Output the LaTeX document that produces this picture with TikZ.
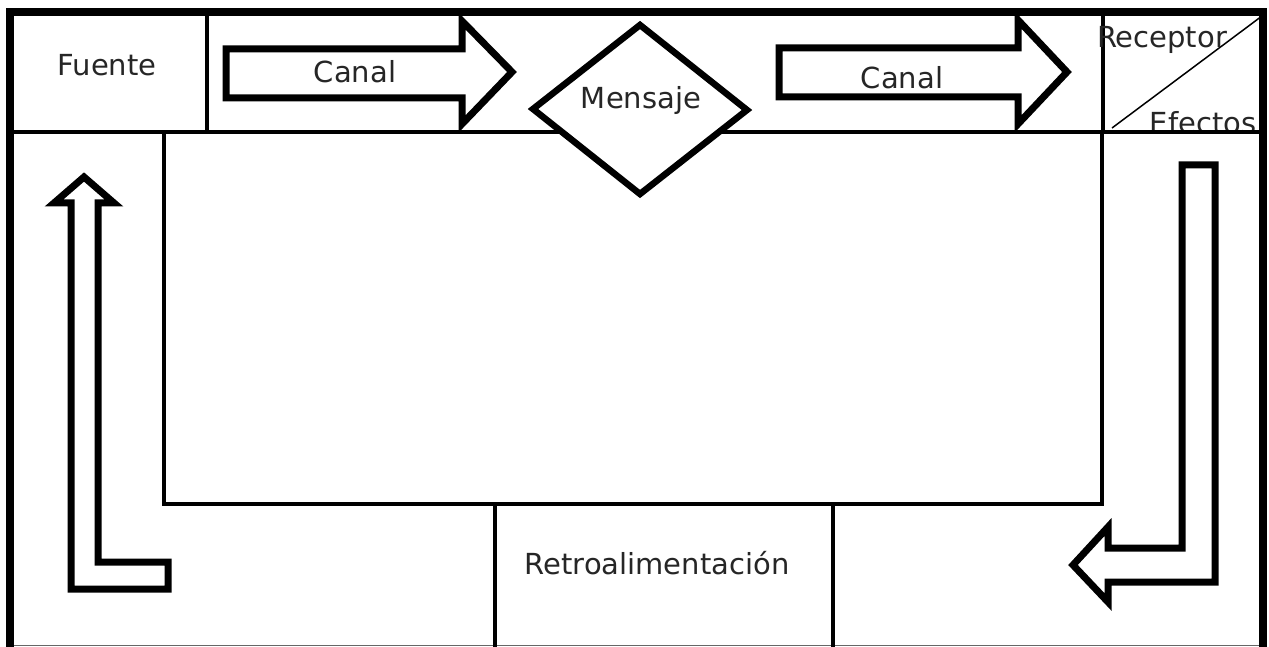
\documentclass[tikz,border=0pt]{standalone}
\usepackage{fontspec}
\setmainfont{DejaVu Sans}
\definecolor{txt}{RGB}{38,38,38}
\begin{document}
\begin{tikzpicture}[x=1pt,y=-1pt,
  lbl/.style={font=\fontsize{29}{33}\selectfont, text=txt, inner sep=0pt, anchor=base},
  outerline/.style={line width=7.5pt, line join=miter},
  divider/.style={line width=4.5pt},
  boxline/.style={line width=3.5pt, line join=miter},
  blockarrow/.style={line width=7pt, line join=miter, miter limit=10, fill=white},
  diamondline/.style={line width=6.5pt, line join=miter, fill=white},
]
\useasboundingbox (0,0) rectangle (1269,647);
\fill[white] (0,0) rectangle (1269,647);

% text partly hidden by lines
\node[lbl] (efectos) at (1203,134) {Efectos};

% frame
\draw[line width=1.5pt, black!60] (10,645.5) -- (1263,645.5);
\draw[outerline] (10,647) -- (10,12) -- (1263,12) -- (1263,647);
\draw[divider] (10,132) -- (1263,132);
\draw[divider] (207,12) -- (207,132);
\draw[divider] (1103,12) -- (1103,132);
\draw[boxline] (164,132) -- (164,504) -- (1102,504) -- (1102,132);
\draw[boxline] (495,504) -- (495,647);
\draw[boxline] (833,504) -- (833,647);
\draw[line width=1.5pt] (1112,128) -- (1262,16);

% top block arrows
\draw[blockarrow] (226,49) -- (462,49) -- (462,21) -- (512,72) -- (462,124) -- (462,98) -- (226,98) -- cycle;
\draw[blockarrow] (779,48) -- (1018,48) -- (1018,20) -- (1067,72) -- (1018,124) -- (1018,97) -- (779,97) -- cycle;

% message diamond
\draw[diamondline] (640,25) -- (747,110) -- (640,194) -- (533,109) -- cycle;

% feedback arrows
\draw[blockarrow] (168,589) -- (71,589) -- (71,203) -- (54,203) -- (84,177) -- (114,203) -- (98,203) -- (98,562) -- (168,562) -- cycle;
\draw[blockarrow] (1182,165) -- (1215,165) -- (1215,582) -- (1108,582) -- (1108,602) -- (1073,565) -- (1108,527) -- (1108,548) -- (1182,548) -- cycle;

% labels
\node[lbl] (fuente) at (107,76) {Fuente};
\node[lbl] (canal1) at (355,83) {Canal};
\node[lbl] (canal2) at (902,89) {Canal};
\node[lbl] (mensaje) at (641,109) {Mensaje};
\node[lbl] (receptor) at (1162,48) {Receptor};
\node[lbl] (retro) at (657,574) {Retroalimentación};
\end{tikzpicture}
\end{document}
